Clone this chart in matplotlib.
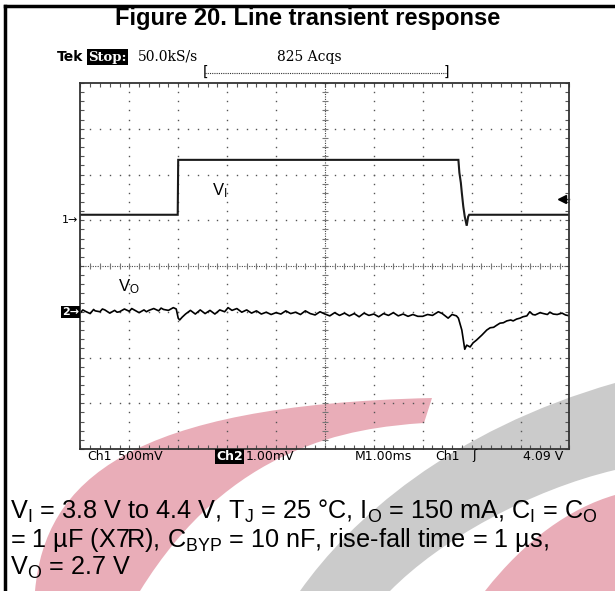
import numpy as np
import matplotlib
matplotlib.use("Agg")
import matplotlib.pyplot as plt
from matplotlib.path import Path
from matplotlib.patches import PathPatch
from matplotlib.lines import Line2D

plt.rcParams["font.family"] = ["Liberation Sans", "DejaVu Sans"]
plt.rcParams["mathtext.fontset"] = "custom"
plt.rcParams["mathtext.rm"] = "Liberation Sans"
plt.rcParams["mathtext.default"] = "regular"

# scope settings
CH1_SCALE = 0.5     # V/div
CH1_REF = 3.74      # V at the "1" marker
CH1_POS = 1.0       # marker position (div)
CH2_SCALE = 1.0     # mV/div
CH2_POS = -1.0      # "2" marker position (div)
TRIG_POS = 1.46     # trigger arrow position (div)

# Ch1: input voltage V_I (V) vs time (ms)
vi_t = [0.0, 1.99, 2.00, 7.73, 7.75, 7.78, 7.80, 7.83, 7.86, 7.90, 7.93, 7.95, 10.0]
vi_v = [3.80, 3.80, 4.40, 4.40, 4.26, 4.15, 4.04, 3.89, 3.78, 3.68, 3.78, 3.80, 3.80]

# Ch2: output voltage deviation (mV) vs time (ms)
vo_t = [0.00, 0.05, 0.10, 0.20, 0.27, 0.30, 0.40, 0.45, 0.50, 0.60, 0.70, 0.75, 0.80, 0.90,
        1.00, 1.05, 1.10, 1.20, 1.30, 1.35, 1.40, 1.50, 1.60, 1.65, 1.70, 1.80, 1.90,
        1.96, 2.00, 2.03, 2.08, 2.15, 2.25, 2.35, 2.45, 2.55, 2.65,
        2.75, 2.85, 2.95, 3.02, 3.10, 3.20, 3.30, 3.40, 3.50, 3.60,
        3.70, 3.80, 3.90, 4.00, 4.10, 4.20, 4.30, 4.40, 4.50, 4.60,
        4.70, 4.80, 4.90, 5.00, 5.10, 5.20, 5.30, 5.40, 5.50, 5.60,
        5.70, 5.80, 5.90, 6.00, 6.10, 6.20, 6.30, 6.40, 6.50, 6.60,
        6.70, 6.80, 6.90, 7.00, 7.10, 7.20, 7.32, 7.40, 7.52, 7.60,
        7.69, 7.73, 7.80, 7.86, 7.90, 7.97, 8.03, 8.10, 8.14, 8.21,
        8.31, 8.38, 8.45, 8.52, 8.58, 8.65, 8.72, 8.80, 8.85, 8.92,
        8.99, 9.05, 9.13, 9.19, 9.25, 9.30, 9.40, 9.47, 9.55, 9.60,
        9.67, 9.75, 9.85, 9.92, 10.0]
vo_mv = [-0.02, 0.04, 0.01, -0.04, 0.05, 0.02, 0.00, 0.06, 0.04, -0.03, 0.03, -0.01, 0.00, 0.06,
         0.01, 0.07, 0.04, -0.02, 0.04, 0.00, 0.03, 0.07, 0.02, 0.08, 0.05, 0.03, 0.09,
         0.06, -0.14, -0.18, -0.12, -0.05, 0.03, -0.05, 0.04, -0.04, 0.03,
         -0.05, 0.04, 0.00, 0.09, 0.03, 0.07, -0.01, 0.04, -0.03, 0.02,
         -0.05, -0.01, -0.06, -0.02, -0.05, 0.02, -0.04, -0.01, -0.06, 0.02,
         -0.04, -0.07, 0.00, -0.05, -0.09, -0.02, -0.08, -0.03, -0.09, -0.04,
         -0.11, -0.03, -0.08, -0.05, -0.11, -0.04, -0.08, -0.02, -0.09, -0.05,
         -0.10, -0.06, -0.10, -0.10, -0.06, -0.08, 0.00, -0.04, -0.14, -0.06,
         -0.09, -0.14, -0.40, -0.82, -0.73, -0.77, -0.68, -0.62, -0.58, -0.51,
         -0.40, -0.35, -0.34, -0.29, -0.25, -0.24, -0.20, -0.18, -0.20, -0.16,
         -0.14, -0.11, -0.09, 0.00, -0.06, -0.07, -0.02, -0.04, -0.06, -0.01,
         -0.05, -0.06, -0.03, -0.07, -0.09]

W, H = 615, 591
fig = plt.figure(figsize=(W / 100, H / 100), dpi=100, facecolor="white")


def fx(px):
    return px / W


def fy(py):
    return 1 - py / H


def fig_path(verts, codes, color):
    verts = [(fx(x), fy(y)) for x, y in verts]
    p = PathPatch(Path(verts, codes), facecolor=color, edgecolor="none",
                  transform=fig.transFigure, zorder=-5)
    fig.patches.append(p)


# background watermark
M, C, L, Z = Path.MOVETO, Path.CURVE4, Path.LINETO, Path.CLOSEPOLY
pink = "#e9adb8"
grey = "#cbcbcb"
fig_path([(35, 591), (45, 480), (130, 405), (432, 398), (424, 423),
          (350, 428), (230, 445), (140, 591), (35, 591)],
         [M, C, C, C, L, C, C, C, Z], pink)
fig_path([(300, 591), (350, 520), (450, 430), (615, 383), (615, 470),
          (530, 490), (440, 540), (390, 591), (300, 591)],
         [M, C, C, C, L, C, C, C, Z], grey)
fig_path([(485, 591), (525, 540), (570, 508), (615, 495), (615, 591), (485, 591)],
         [M, C, C, C, L, Z], pink)

# outer frame
fig.add_artist(Line2D([fx(5), fx(5)], [fy(6), fy(591)], color="black", lw=2.5,
                      transform=fig.transFigure))
fig.add_artist(Line2D([fx(5), fx(615)], [fy(6), fy(6)], color="black", lw=2.5,
                      transform=fig.transFigure))

fig.text(0.5, fy(19), "Figure 20. Line transient response", ha="center", va="center",
         fontsize=17, fontweight="bold")

# scope screen
ax = fig.add_axes([fx(80.4), fy(449), 489 / W, 366 / H])
ax.set_facecolor("none")
ax.set_xlim(0, 10)
ax.set_ylim(-4, 4)
for s in ax.spines.values():
    s.set_color("#333333")
    s.set_linewidth(1.3)
ax.set_xticks(np.arange(0, 11, 1))
ax.set_yticks(np.arange(-4, 5, 1))
ax.set_xticks(np.arange(0, 10.01, 0.2), minor=True)
ax.set_yticks(np.arange(-4, 4.01, 0.2), minor=True)
ax.tick_params(which="both", direction="in", length=3, width=0.8, color="#555555",
               top=True, right=True, labelbottom=False, labelleft=False)

gc = "#555555"
minor_x = np.arange(0, 10.01, 0.2)
minor_y = np.arange(-4, 4.01, 0.2)
for gx in [1, 2, 3, 4, 6, 7, 8, 9]:
    ax.plot(np.full_like(minor_y, gx), minor_y, ls="none", marker="s", ms=1.0,
            mew=0, color=gc)
for gy in [-3, -2, -1, 1, 2, 3]:
    ax.plot(minor_x, np.full_like(minor_x, gy), ls="none", marker="s", ms=1.0,
            mew=0, color=gc)
ax.axhline(0, ls=(0, (1, 1.2)), lw=0.8, color="#444444")
ax.axvline(5, ls=(0, (1, 1.2)), lw=0.8, color="#444444")
ax.vlines(minor_x, -0.06, 0.06, lw=0.8, color="#777777")
ax.hlines(minor_y, 4.94, 5.06, lw=0.8, color="#777777")

vi_div = [(v - CH1_REF) / CH1_SCALE + CH1_POS for v in vi_v]
vo_div = [m / CH2_SCALE + CH2_POS for m in vo_mv]
ax.plot(vi_t, vi_div, color="#1a1a1a", lw=1.5, solid_joinstyle="miter")
ax.plot(vo_t, vo_div, color="black", lw=1.2)

# trigger level arrow
ax.plot([9.82, 10], [TRIG_POS, TRIG_POS], color="#333333", lw=1.0, clip_on=False)
ax.plot([9.84], [TRIG_POS], marker="<", ms=6, color="black", clip_on=False)

ax.text(2.85, 1.65, "V$_{I}$", fontsize=12, ha="center", va="center")
ax.text(1.0, -0.45, "V$_{O}$", fontsize=12, ha="center", va="center")

# channel markers
fig.text(fx(78), fy(220.4), "1\u2192", ha="right", va="center", fontsize=8,
         family="DejaVu Sans")
fig.text(fx(79), fy(311.7), "2\u2192", ha="right", va="center", fontsize=8,
         family="DejaVu Sans", fontweight="bold", color="white",
         bbox=dict(boxstyle="square,pad=0.1", fc="black", ec="none"))

# scope header
fig.text(fx(57), fy(57), "Tek", ha="left", va="center", fontsize=10,
         fontweight="bold", family="DejaVu Sans")
fig.text(fx(88), fy(57), "Stop:", ha="left", va="center", fontsize=9.5,
         fontweight="bold", family="DejaVu Serif", color="white",
         bbox=dict(boxstyle="square,pad=0.1", fc="black", ec="none"))
fig.text(fx(138), fy(57), "50.0kS/s", ha="left", va="center", fontsize=10,
         family="DejaVu Serif")
fig.text(fx(277), fy(57), "825 Acqs", ha="left", va="center", fontsize=10,
         family="DejaVu Serif")
fig.add_artist(Line2D([fx(205), fx(446)], [fy(72.5), fy(72.5)], color="#333333",
                      lw=0.8, ls=(0, (1, 1)), transform=fig.transFigure))
fig.text(fx(205), fy(72), "[", ha="center", va="center", fontsize=10,
         family="DejaVu Sans")
fig.text(fx(446), fy(72), "]", ha="center", va="center", fontsize=10,
         family="DejaVu Sans")

# scope footer
fy_foot = fy(456)
fkw = dict(ha="left", va="center", fontsize=9, family="DejaVu Sans")
fig.text(fx(87), fy_foot, "Ch1", **fkw)
fig.text(fx(118), fy_foot, "500mV", **fkw)
fig.text(fx(216), fy_foot, "Ch2", fontweight="bold", color="white",
         bbox=dict(boxstyle="square,pad=0.08", fc="black", ec="none"), **fkw)
fig.text(fx(246), fy_foot, "1.00mV", **fkw)
fig.text(fx(355), fy_foot, "M1.00ms", **fkw)
fig.text(fx(435), fy_foot, "Ch1", **fkw)
fig.text(fx(472), fy_foot, "\u0283", **fkw)
fig.text(fx(563), fy_foot, "4.09 V", ha="right", va="center", fontsize=9,
         family="DejaVu Sans")

# caption
cap = ["V$_{I}$ = 3.8 V to 4.4 V, T$_{J}$ = 25 °C, I$_{O}$ = 150 mA, C$_{I}$ = C$_{O}$",
       "= 1 µF (X7R), C$_{BYP}$ = 10 nF, rise-fall time = 1 µs,",
       "V$_{O}$ = 2.7 V"]
for i, line in enumerate(cap):
    fig.text(fx(10), fy(519 + 28 * i), line, ha="left", va="baseline", fontsize=18.2)

fig.savefig("out.png", dpi=100, facecolor="white")
